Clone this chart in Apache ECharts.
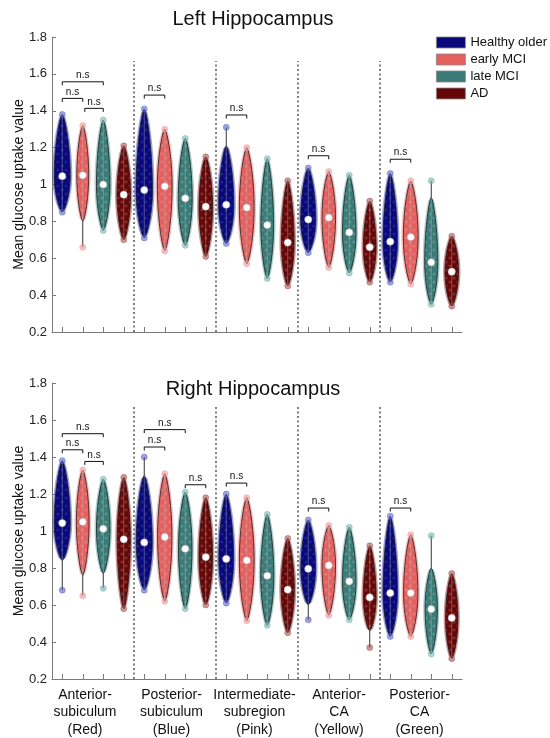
<!DOCTYPE html>
<html><head><meta charset="utf-8">
<script src="https://cdn.jsdelivr.net/npm/echarts@6/dist/echarts.min.js"></script>
<style>html,body{margin:0;padding:0;background:#fff}#c{width:550px;height:738px}</style>
</head><body><div id="c"></div>
<script>
// ---------- data ----------
const groups = ['Healthy older', 'early MCI', 'late MCI', 'AD'];
const regions = ['Anterior-\nsubiculum\n(Red)', 'Posterior-\nsubiculum\n(Blue)', 'Intermediate-\nsubregion\n(Pink)', 'Anterior-\nCA\n(Yellow)', 'Posterior-\nCA\n(Green)'];
const panelTitles = ['Left Hippocampus', 'Right Hippocampus'];
const yLabel = 'Mean glucose uptake value';
const yMin = 0.2, yMax = 1.8, yStep = 0.2;

// order: region-major, group-minor (HO, eMCI, LMCI, AD)
const leftMed = [1.045,1.05,1.0,0.945, 0.97,0.99,0.925,0.88, 0.89,0.875,0.78,0.685, 0.81,0.82,0.74,0.66, 0.69,0.715,0.578,0.527];
const leftMin = [0.85,0.66,0.75,0.70, 0.71,0.64,0.67,0.61, 0.68,0.57,0.49,0.45, 0.63,0.55,0.52,0.47, 0.47,0.46,0.35,0.34];
const leftMax = [1.38,1.32,1.35,1.21, 1.41,1.30,1.25,1.15, 1.31,1.20,1.14,1.02, 1.09,1.07,1.05,0.91, 1.06,1.02,1.02,0.72];
const leftBodyLo = [0.85,0.80,0.75,0.70, 0.71,0.64,0.67,0.61, 0.68,0.57,0.49,0.45, 0.63,0.55,0.52,0.47, 0.47,0.46,0.35,0.34];
const leftBodyHi = [1.38,1.32,1.35,1.21, 1.41,1.30,1.25,1.15, 1.21,1.20,1.14,1.02, 1.09,1.07,1.05,0.91, 1.06,1.02,0.93,0.72];
const leftWidth = [0.39,0.29,0.33,0.33, 0.40,0.36,0.34,0.33, 0.37,0.36,0.31,0.31, 0.37,0.33,0.33,0.31, 0.35,0.36,0.32,0.33];

const rightMed = [1.043,1.049,1.012,0.955, 0.938,0.968,0.904,0.859, 0.849,0.841,0.758,0.683, 0.796,0.814,0.728,0.641, 0.665,0.665,0.578,0.53];
const rightMin = [0.68,0.65,0.69,0.58, 0.68,0.62,0.58,0.60, 0.61,0.515,0.49,0.45, 0.52,0.545,0.52,0.37, 0.43,0.43,0.335,0.31];
const rightMax = [1.38,1.33,1.28,1.29, 1.40,1.31,1.21,1.18, 1.20,1.18,1.09,0.96, 1.06,1.03,1.02,0.92, 1.08,0.98,0.975,0.77];
const rightBodyLo = [0.84,0.76,0.77,0.58, 0.68,0.62,0.58,0.60, 0.61,0.515,0.49,0.45, 0.60,0.545,0.52,0.46, 0.43,0.43,0.335,0.31];
const rightBodyHi = [1.38,1.33,1.28,1.29, 1.30,1.31,1.21,1.18, 1.20,1.18,1.09,0.96, 1.06,1.03,1.02,0.92, 1.08,0.98,0.80,0.77];
const rightWidth = [0.39,0.31,0.33,0.32, 0.39,0.35,0.33,0.33, 0.36,0.36,0.32,0.32, 0.36,0.33,0.33,0.31, 0.35,0.35,0.30,0.30];

// significance brackets: [fromCategory, toCategory, yValue]
const leftBrackets = [[0,2,1.557],[0,1,1.467],[1.1,2,1.413],[4,5,1.485],[8,9,1.377],[12,13,1.156],[16,17,1.137]];
const rightBrackets = [[0,2,1.526],[0,1,1.439],[1.1,2,1.376],[4,6,1.548],[4,5,1.454],[6,7,1.25],[8,9,1.259],[12,13,1.124],[16,17,1.124]];
const bracketText = 'n.s';
const separators = [3.5, 7.5, 11.5, 15.5];
const separatorTop = 1.67;

// ---------- style ----------
const groupColors = ['#08087a', '#e4605e', '#3b7a76', '#650707'];
const dotColors = ['rgba(80,90,200,0.55)', 'rgba(240,150,150,0.6)', 'rgba(120,180,175,0.6)', 'rgba(160,70,70,0.55)'];
const speckle = ['rgba(90,100,210,0.25)', 'rgba(255,190,190,0.25)', 'rgba(150,205,200,0.3)', 'rgba(190,110,110,0.35)'];
const FONT = '"Liberation Sans", Arial, Helvetica, sans-serif';
const grids = [
  {left: 52, top: 37, width: 410, height: 295, outerBoundsMode: 'none'},
  {left: 52, top: 383, width: 410, height: 296, outerBoundsMode: 'none'}
];
const cats = Array.from({length: 20}, (_, i) => 'c' + i);

// small decorative texture imitating the overplotted points
function makePattern(base, spot) {
  const c = document.createElement('canvas');
  c.width = 8; c.height = 8;
  const g = c.getContext('2d');
  g.fillStyle = base; g.fillRect(0, 0, 8, 8);
  g.fillStyle = spot;
  [[2, 2], [6, 6]].forEach(p => { g.beginPath(); g.arc(p[0], p[1], 1.6, 0, Math.PI * 2); g.fill(); });
  return {type: 'pattern', image: c, repeat: 'repeat'};
}
const patterns = groupColors.map((c, i) => makePattern(c, speckle[i]));

function violinRender(gi) {
  return function (params, api) {
    const cat = api.value(0), med = api.value(1), mn = api.value(2), mx = api.value(3);
    const lo = api.value(4), hi = api.value(5), hw = api.value(6);
    const band = api.size([1, 0])[0];
    const cx = api.coord([cat, med])[0];
    const yp = v => api.coord([cat, v])[1];
    const hwPx = hw * band;
    const N = 40;
    const right = [], left = [], hr = [], hl = [];
    for (let i = 0; i <= N; i++) {
      const v = lo + (hi - lo) * i / N;
      let u = v < med ? (v - lo) / (med - lo) : (hi - v) / (hi - med);
      u = Math.max(0, Math.min(1, u));
      const f = Math.pow(Math.sin(u * Math.PI / 2), 0.65);
      const w = f * hwPx;
      const y = yp(v);
      right.push([cx + w, y]);
      left.unshift([cx - w, y]);
      const wh = w > 0.5 ? w * 1.05 + 1.6 : w;
      hr.push([cx + wh, y]);
      hl.unshift([cx - wh, y]);
    }
    const dc = dotColors[gi];
    return {
      type: 'group',
      children: [
        {type: 'line', shape: {x1: cx, y1: yp(mn), x2: cx, y2: yp(mx)}, style: {stroke: '#333', lineWidth: 1}},
        {type: 'polygon', shape: {points: hr.concat(hl), smooth: 0.3}, style: {fill: dc}},
        {type: 'polygon', shape: {points: right.concat(left)}, style: {fill: patterns[gi], stroke: '#1a1a1a', lineWidth: 0.8}},
        {type: 'line', shape: {x1: cx, y1: yp(lo), x2: cx, y2: yp(hi)}, style: {stroke: 'rgba(190,190,190,0.5)', lineWidth: 0.8}},
        {type: 'circle', shape: {cx: cx, cy: yp(mn), r: 3}, style: {fill: dc, stroke: dc, lineWidth: 0.8}},
        {type: 'circle', shape: {cx: cx, cy: yp(mx), r: 3}, style: {fill: dc, stroke: dc, lineWidth: 0.8}},
        {type: 'circle', shape: {cx: cx, cy: yp(med), r: 3.6}, style: {fill: '#fff', stroke: '#aaa', lineWidth: 0.5}}
      ]
    };
  };
}

function sepRender(params, api) {
  const band = api.size([1, 0])[0];
  const p0 = api.coord([0, yMin]);
  const pt = api.coord([0, api.value(2)]);
  const x = p0[0] + api.value(3) * band;
  return {type: 'line', shape: {x1: x, y1: p0[1], x2: x, y2: pt[1]},
    style: {stroke: '#555', lineWidth: 1.5, lineDash: [2, 2.5]}};
}

function bracketRender(params, api) {
  const band = api.size([1, 0])[0];
  const p = api.coord([0, api.value(1)]);
  const x1 = p[0] + api.value(2) * band, x2 = p[0] + api.value(3) * band, y = p[1];
  return {type: 'group', children: [
    {type: 'polyline', shape: {points: [[x1, y + 3.5], [x1, y], [x2, y], [x2, y + 3.5]]},
      style: {stroke: '#111', lineWidth: 1, fill: null}},
    {type: 'text', style: {x: (x1 + x2) / 2, y: y - 1.5, text: bracketText, fill: '#111',
      font: '10px ' + FONT, textAlign: 'center', textVerticalAlign: 'bottom'}}
  ]};
}

const panels = [
  {med: leftMed, min: leftMin, max: leftMax, lo: leftBodyLo, hi: leftBodyHi, w: leftWidth, br: leftBrackets},
  {med: rightMed, min: rightMin, max: rightMax, lo: rightBodyLo, hi: rightBodyHi, w: rightWidth, br: rightBrackets}
];

const xAxes = [], yAxes = [], series = [];
panels.forEach((P, pi) => {
  xAxes.push({type: 'category', gridIndex: pi, data: cats, boundaryGap: true,
    axisLine: {lineStyle: {color: '#7a7a7a'}},
    axisTick: {show: true, interval: 0, inside: true, alignWithLabel: true, length: 5, lineStyle: {color: '#7a7a7a'}},
    axisLabel: {show: false}, splitLine: {show: false}});
  yAxes.push({type: 'value', gridIndex: pi, min: yMin, max: yMax, interval: yStep,
    name: yLabel, nameLocation: 'middle', nameGap: 26, nameRotate: 90, nameMoveOverlap: false,
    nameTextStyle: {fontSize: 14, color: '#111', fontFamily: FONT},
    axisLine: {show: true, lineStyle: {color: '#7a7a7a'}},
    axisTick: {show: true, inside: true, length: 4, lineStyle: {color: '#7a7a7a'}},
    axisLabel: {fontSize: 13, color: '#222', margin: 5, fontFamily: FONT},
    splitLine: {show: false}});
  groups.forEach((g, gi) => {
    const data = [];
    for (let r = 0; r < regions.length; r++) {
      const k = r * 4 + gi;
      data.push([k, P.med[k], P.min[k], P.max[k], P.lo[k], P.hi[k], P.w[k]]);
    }
    series.push({type: 'custom', name: g, xAxisIndex: pi, yAxisIndex: pi,
      itemStyle: {color: groupColors[gi]},
      renderItem: violinRender(gi), data: data, encode: {x: 0, y: [1, 2, 3]}, z: 3, silent: true});
  });
  series.push({type: 'custom', name: 'sep' + pi, xAxisIndex: pi, yAxisIndex: pi,
    renderItem: sepRender, data: separators.map(s => [0, yMin, separatorTop, s]),
    encode: {x: 0, y: 1}, z: 2, silent: true});
  series.push({type: 'custom', name: 'br' + pi, xAxisIndex: pi, yAxisIndex: pi,
    renderItem: bracketRender, data: P.br.map(b => [0, b[2], b[0], b[1]]),
    encode: {x: 0, y: 1}, z: 4, silent: true});
});
// region labels under the bottom panel
const labelShift = [16, 7, 5, 0, 3];
xAxes.push({type: 'category', gridIndex: 1, position: 'bottom', boundaryGap: true,
  data: regions.map((r, i) => ({value: r, textStyle: {padding: [0, labelShift[i], 0, 0]}})),
  axisLine: {show: false}, axisTick: {show: false}, splitLine: {show: false},
  axisLabel: {interval: 0, fontSize: 14, lineHeight: 17.5, color: '#111', margin: 7, fontFamily: FONT}});

const chart = echarts.init(document.getElementById('c'), null, {renderer: 'canvas'});
chart.setOption({
  animation: false,
  backgroundColor: '#fff',
  textStyle: {fontFamily: FONT},
  grid: grids,
  xAxis: xAxes,
  yAxis: yAxes,
  legend: {data: groups, orient: 'vertical', left: 436, top: 36, itemWidth: 29, itemHeight: 11,
    itemGap: 4, icon: 'rect', padding: 0, selectedMode: false,
    itemStyle: {borderColor: '#888', borderWidth: 0.8},
    textStyle: {fontSize: 13, color: '#111', fontFamily: FONT}},
  graphic: panelTitles.map((t, i) => ({type: 'text', x: 253, y: i === 0 ? 19 : 389,
    style: {text: t, font: '20px ' + FONT, fill: '#111', textAlign: 'center', textVerticalAlign: 'middle'}})),
  series: series
});
</script></body></html>
